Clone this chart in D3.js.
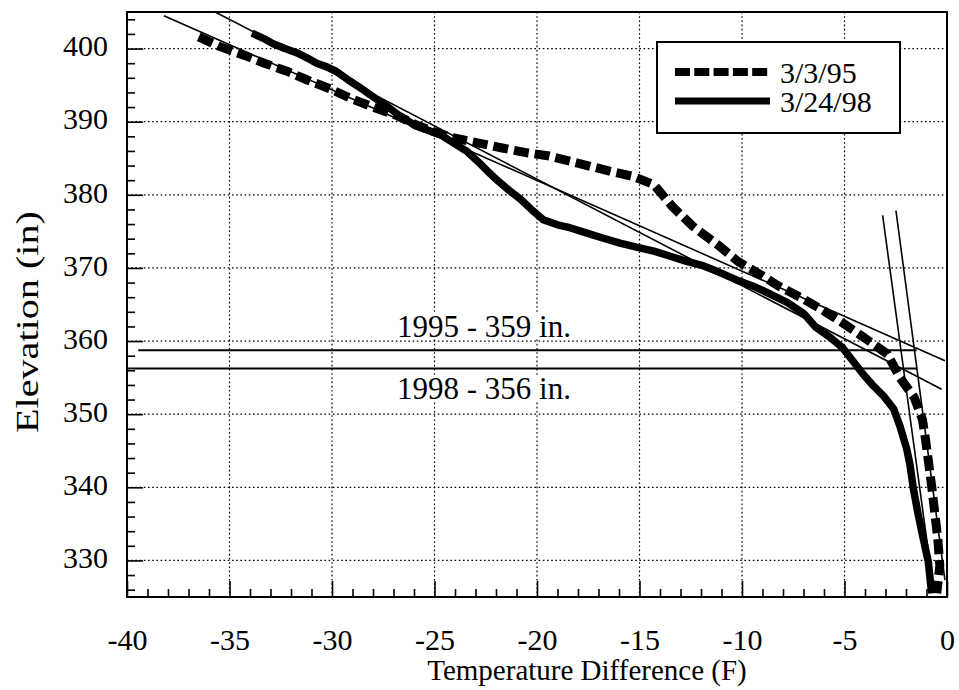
<!DOCTYPE html>
<html>
<head>
<meta charset="utf-8">
<script src="https://cdn.jsdelivr.net/npm/d3@7"></script>
<style>
  html, body { margin: 0; padding: 0; background: #fff; }
  svg { display: block; }
  svg text { font-family: "Liberation Serif", "Times New Roman", serif !important; fill: #000; }
</style>
</head>
<body>
<svg id="chart" width="959" height="690"></svg>
<script>
// ---------------- data ----------------
const xTicks = [-40, -35, -30, -25, -20, -15, -10, -5, 0];
const yTicks = [330, 340, 350, 360, 370, 380, 390, 400];

// 3/3/95 profile (temperature difference F, elevation in)
const t95 = [-36.5, -35.5, -34.3, -33.3, -32.2, -31.2, -30.1, -29.1, -28.0, -26.8, -26.0, -25.1, -24.1, -22.9, -21.7, -20.6, -19.4, -18.4, -17.4, -16.4, -15.3, -14.3, -13.4, -12.4, -11.2, -10.2, -9.1, -8.2, -7.1, -6.1, -5.1, -3.9, -2.9, -2.3, -1.6, -1.2, -1.05, -0.9, -0.75, -0.6, -0.45, -0.35, -0.5];
const e95 = [401.6, 400.3, 399.1, 398.0, 396.9, 395.7, 394.5, 393.2, 392.0, 390.8, 389.7, 388.7, 387.8, 387.1, 386.4, 385.8, 385.3, 384.6, 383.9, 383.2, 382.5, 381.4, 378.4, 375.7, 373.2, 370.9, 369.1, 367.5, 365.9, 364.3, 362.5, 360.2, 358.2, 355.0, 352.3, 349.3, 346.6, 343.4, 340.2, 336.6, 333.0, 329.3, 325.5];

// 3/24/98 profile
const t98 = [-33.9, -33.35, -32.9, -32.3, -31.7, -31.2, -30.75, -30.25, -29.8, -29.2, -28.6, -28.15, -27.3, -26.8, -26.4, -25.9, -24.7, -23.4, -22.9, -22.4, -21.9, -21.4, -20.8, -20.2, -19.7, -19.0, -18.4, -17.6, -16.8, -15.95, -15.1, -14.3, -13.5, -12.7, -11.9, -11.1, -10.3, -9.45, -8.6, -7.8, -7.0, -6.4, -5.7, -5.1, -4.6, -4.1, -3.6, -3.1, -2.6, -2.3, -1.97, -1.8, -1.64, -1.4, -1.16, -0.91, -0.75];
const e98 = [402.1, 401.4, 400.7, 400.0, 399.4, 398.7, 398.0, 397.5, 396.9, 395.7, 394.6, 393.7, 392.1, 391.0, 390.3, 389.4, 388.2, 385.9, 384.6, 383.2, 381.9, 380.7, 379.4, 377.8, 376.6, 375.9, 375.5, 374.8, 374.1, 373.4, 372.8, 372.3, 371.6, 370.9, 370.3, 369.4, 368.4, 367.5, 366.4, 365.3, 363.8, 361.9, 360.5, 359.1, 357.3, 355.5, 353.9, 352.5, 350.7, 348.4, 345.3, 343.0, 339.8, 336.2, 333.0, 329.8, 325.5];

// straight-line fits: [x1, y1, x2, y2]
const fit95Upper = [-38.2, 404.5, -0.1, 357.3];
const fit98Upper = [-35.7, 405.0, -0.26, 353.4];
const fit98Lower = [-3.14, 377.2, -0.72, 327.3];
const fit95Lower = [-2.49, 377.85, -0.1, 327.3];

// break elevations
const breakElev = [358.75, 356.25];
const breakStart = [-39.45, -40];
const breakEnd = [-1.48, -1.48];
const breakLabels = ["1995 - 359 in.", "1998 - 356 in."];

const seriesNames = ["3/3/95", "3/24/98"];

// ---------------- layout ----------------
const FONT = "'Liberation Serif', 'Times New Roman', serif";
const svg = d3.select("#chart");
const x = d3.scaleLinear().domain([-40, 0]).range([127, 947]);
const y = d3.scaleLinear().domain([325, 405]).range([597, 12]);

svg.append("rect").attr("width", 959).attr("height", 690).attr("fill", "#fff");

svg.append("clipPath").attr("id", "plotclip")
  .append("rect").attr("x", 127).attr("y", 12).attr("width", 820).attr("height", 585);

// grid
const grid = svg.append("g").attr("stroke", "#000").attr("stroke-width", 1.2).attr("stroke-dasharray", "1.6,2.6");
grid.selectAll("line.v").data(xTicks.filter(d => d > -40 && d < 0)).join("line")
  .attr("x1", d => x(d)).attr("x2", d => x(d)).attr("y1", y(405)).attr("y2", y(325));
grid.selectAll("line.h").data(yTicks).join("line")
  .attr("x1", x(-40)).attr("x2", x(0)).attr("y1", d => y(d)).attr("y2", d => y(d));

// axes ticks (inward)
const xMinor = d3.range(-39, 0, 1).filter(d => d % 5 !== 0);
const yMinor = d3.range(326, 405, 2).filter(d => d % 10 !== 0);

const gx = svg.append("g").attr("transform", `translate(0,${y(325)})`);
gx.call(d3.axisBottom(x).tickValues(xMinor).tickSize(-8).tickFormat(""));
const gxMaj = svg.append("g").attr("transform", `translate(0,${y(325)})`);
gxMaj.call(d3.axisBottom(x).tickValues(xTicks).tickSize(-16).tickPadding(33).tickFormat(d => String(d)));

const gy = svg.append("g").attr("transform", `translate(${x(-40)},0)`);
gy.call(d3.axisLeft(y).tickValues(yMinor).tickSize(-8).tickFormat(""));
const gyMaj = svg.append("g").attr("transform", `translate(${x(-40)},0)`);
gyMaj.call(d3.axisLeft(y).tickValues(yTicks).tickSize(-16).tickPadding(19).tickFormat(d => String(d)));

[gx, gxMaj, gy, gyMaj].forEach(g => {
  g.attr("font-family", null).attr("font-size", null);
  g.select(".domain").remove();
  g.selectAll(".tick line").attr("stroke", "#000").attr("stroke-width", 1.6);
  g.selectAll(".tick text").style("font-family", FONT).style("font-size", "30px").attr("fill", "#000");
});
gyMaj.selectAll(".tick text").attr("dy", "0.24em");
gxMaj.selectAll(".tick text").attr("dy", "0.68em");

// frame
svg.append("rect").attr("x", x(-40)).attr("y", y(405)).attr("width", x(0) - x(-40)).attr("height", y(325) - y(405))
  .attr("fill", "none").attr("stroke", "#000").attr("stroke-width", 2);

// data group
const plot = svg.append("g").attr("clip-path", "url(#plotclip)");

breakElev.forEach((e, i) => {
  plot.append("line")
    .attr("x1", x(breakStart[i])).attr("x2", x(breakEnd[i]))
    .attr("y1", y(e)).attr("y2", y(e))
    .attr("stroke", "#000").attr("stroke-width", 2);
});

[fit95Upper, fit98Upper, fit98Lower, fit95Lower].forEach(f => {
  plot.append("line")
    .attr("x1", x(f[0])).attr("y1", y(f[1])).attr("x2", x(f[2])).attr("y2", y(f[3]))
    .attr("stroke", "#000").attr("stroke-width", 1.6);
});

const line = d3.line().x(d => x(d[0])).y(d => y(d[1])).curve(d3.curveLinear);

plot.append("path")
  .datum(t98.map((t, i) => [t, e98[i]]))
  .attr("d", line).attr("fill", "none").attr("stroke", "#000")
  .attr("stroke-width", 7.5).attr("stroke-linejoin", "round");

plot.append("path")
  .datum(t95.map((t, i) => [t, e95[i]]))
  .attr("d", line).attr("fill", "none").attr("stroke", "#000")
  .attr("stroke-width", 9).attr("stroke-dasharray", "15,6").attr("stroke-linejoin", "round");

// break labels with white backing
const labelY = [337, 399];
breakLabels.forEach((txt, i) => {
  const t = svg.append("text").attr("x", 397).attr("y", labelY[i])
    .style("font-family", FONT).style("font-size", "31px").text(txt);
  const bb = t.node().getBBox();
  svg.insert("rect", () => t.node())
    .attr("x", bb.x - 6).attr("y", bb.y + 4).attr("width", bb.width + 10).attr("height", bb.height - 10)
    .attr("fill", "#fff");
});

// legend
const lg = svg.append("g");
lg.append("rect").attr("x", 657).attr("y", 42).attr("width", 243).attr("height", 91)
  .attr("fill", "#fff").attr("stroke", "#000").attr("stroke-width", 2);
lg.append("line").attr("x1", 675).attr("x2", 771).attr("y1", 72).attr("y2", 72)
  .attr("stroke", "#000").attr("stroke-width", 8).attr("stroke-dasharray", "15,4.3");
lg.append("line").attr("x1", 675).attr("x2", 770).attr("y1", 101).attr("y2", 101)
  .attr("stroke", "#000").attr("stroke-width", 7);
const lgText = lg.append("text").style("font-family", FONT).style("font-size", "30px");
lgText.selectAll("tspan").data(seriesNames).join("tspan")
  .attr("x", 780).attr("y", (d, i) => [83, 112][i]).text(d => d);

// axis titles
svg.append("text").attr("x", 587).attr("y", 680).attr("text-anchor", "middle")
  .style("font-family", FONT).style("font-size", "29px").text("Temperature Difference (F)");
svg.append("text").attr("transform", "translate(38,322) rotate(-90)").attr("text-anchor", "middle")
  .attr("textLength", 222).attr("lengthAdjust", "spacingAndGlyphs")
  .style("font-family", FONT).style("font-size", "32px").text("Elevation (in)");
</script>
</body>
</html>
